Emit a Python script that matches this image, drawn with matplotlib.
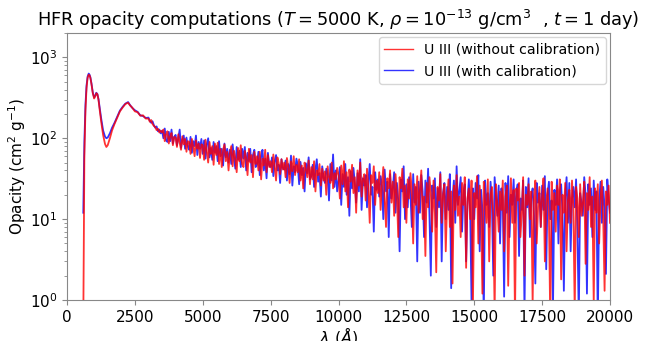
import numpy as np
import matplotlib
matplotlib.use("Agg")
import matplotlib.pyplot as plt

# smooth part of the spectrum
wl_head = [600, 640, 680, 720, 760, 800, 830, 860, 900, 950, 1000, 1040, 1080, 1120, 1160,
           1200, 1260, 1330, 1400, 1450, 1500, 1580, 1660, 1750, 1850, 1950, 2050, 2150,
           2250, 2320, 2400, 2500, 2600, 2700, 2800, 2900]
red_head = [0.5, 60, 220, 420, 560, 610, 600, 560, 470, 360, 310, 330, 360, 350, 300,
            230, 160, 110, 85, 78, 82, 100, 125, 150, 180, 215, 240, 265,
            275, 255, 240, 215, 210, 190, 192, 175]
blue_head = [12, 90, 260, 450, 580, 630, 610, 570, 480, 370, 320, 335, 365, 350, 305,
             245, 175, 125, 105, 100, 102, 115, 135, 155, 185, 220, 245, 268,
             280, 258, 238, 222, 212, 192, 188, 178]

# noisy part, sampled every 50 A from 3000 to 20000
wl_tail = np.arange(3000, 20001, 50)
red_tail = [
    175, 160, 168, 150, 142, 138, 126, 131, 118, 124,
    118, 128, 92, 112, 122, 86, 106, 116, 82, 104,
    102, 78, 112, 88, 72, 106, 84, 98, 68, 92,
    90, 64, 98, 78, 60, 94, 74, 86, 57, 84,
    82, 54, 96, 70, 50, 90, 64, 80, 47, 86,
    62, 88, 48, 74, 44, 72, 84, 52, 68, 40,
    66, 80, 45, 70, 56, 38, 76, 52, 82, 48,
    44, 70, 56, 35, 74, 50, 62, 33, 68, 48,
    60, 40, 68, 31, 56, 46, 72, 38, 62, 44,
    52, 38, 63, 45, 30, 58, 49, 36, 55, 41,
    50, 33, 57, 44, 28, 52, 39, 60, 35, 47,
    38, 55, 30, 46, 24, 50, 41, 33, 53, 27,
    44, 31, 52, 22, 40, 35, 48, 26, 42, 30,
    39, 20, 45, 33, 28, 50, 24, 37, 31, 43,
    35, 18, 46, 27, 52, 22, 38, 14, 41, 29,
    47, 21, 33, 12, 40, 26, 50, 19, 31, 36,
    17, 42, 24, 9, 35, 28, 45, 15, 30, 21,
    38, 13, 27, 44, 18, 8, 32, 24, 40, 16,
    29, 11, 36, 20, 6, 33, 24, 42, 14, 26,
    9, 31, 18, 37, 22, 5, 27, 15, 34, 12,
    24, 40, 10, 19, 3.5, 28, 14, 33, 21, 7,
    30, 12, 2.2, 25, 17, 36, 9, 20, 27, 4,
    16, 31, 8, 22, 1.6, 26, 13, 35, 11, 19,
    6, 28, 15, 33, 2.5, 18, 24, 10, 30, 0.8,
    21, 14, 34, 5, 26, 12, 1.2, 29, 17, 9,
    31, 3, 20, 25, 11, 0.7, 27, 15, 7, 22,
    13, 30, 4, 19, 26, 1.5, 14, 32, 9, 23,
    0.6, 24, 17, 28, 6, 12, 33, 2, 20, 15,
    27, 10, 22, 0.9, 18, 30, 5, 14, 25, 8,
    19, 32, 3, 16, 24, 11, 0.5, 29, 13, 21,
    7, 26, 15, 31, 1.8, 20, 12, 28, 4, 17,
    23, 9, 30, 14, 0.7, 25, 18, 6, 27, 11,
    16, 29, 2.8, 21, 13, 33, 8, 19, 0.9, 24,
    12, 27, 5, 18, 30, 10, 1.3, 22, 15, 26,
    9]
blue_tail = [
    180, 165, 155, 162, 145, 135, 140, 122, 128, 115,
    124, 100, 132, 94, 90, 120, 92, 128, 86, 104,
    110, 82, 100, 128, 76, 96, 108, 74, 102, 80,
    72, 104, 66, 92, 80, 108, 62, 90, 74, 98,
    64, 94, 56, 84, 100, 58, 76, 54, 90, 66,
    80, 52, 92, 60, 74, 46, 86, 58, 74, 50,
    72, 48, 84, 58, 42, 78, 54, 70, 44, 74,
    56, 78, 40, 66, 52, 74, 38, 62, 72, 44,
    48, 68, 35, 60, 72, 40, 56, 32, 66, 46,
    44, 58, 34, 51, 62, 40, 47, 28, 55, 43,
    41, 53, 30, 48, 36, 61, 26, 45, 38, 56,
    46, 27, 51, 35, 43, 22, 49, 37, 58, 31,
    34, 47, 25, 41, 55, 29, 37, 19, 45, 33,
    28, 42, 36, 17, 48, 30, 63, 25, 40, 22,
    30, 44, 15, 36, 25, 48, 20, 33, 11, 39,
    24, 43, 28, 16, 37, 22, 55, 13, 32, 26,
    35, 14, 29, 48, 20, 25, 7, 38, 23, 31,
    19, 34, 26, 10, 41, 22, 29, 6, 36, 18,
    24, 38, 12, 28, 17, 4, 31, 22, 45, 10,
    27, 14, 33, 20, 8, 36, 16, 25, 3, 29,
    12, 35, 22, 6, 30, 16, 42, 11, 2, 26,
    18, 32, 8, 24, 14, 38, 3, 21, 28, 10,
    25, 13, 36, 1.4, 19, 30, 9, 45, 15, 22,
    33, 7, 20, 27, 3, 16, 31, 12, 0.9, 24,
    10, 28, 18, 35, 4, 23, 13, 0.6, 30, 15,
    21, 8, 29, 16, 2, 33, 19, 11, 26, 5,
    24, 17, 1.1, 28, 12, 34, 6, 20, 15, 31,
    9, 22, 27, 3.5, 18, 13, 30, 0.7, 25, 14,
    32, 6, 19, 24, 11, 1.6, 28, 16, 21, 8,
    26, 13, 34, 2.4, 20, 29, 10, 17, 0.8, 23,
    15, 31, 5, 22, 27, 12, 1.3, 19, 33, 9,
    28, 4, 18, 25, 14, 31, 7, 0.6, 21, 16,
    11, 33, 20, 1.2, 27, 15, 24, 6, 30, 13,
    22, 0.5, 17, 29, 9, 25, 14, 2.1, 31, 18,
    12]

wavelength = np.concatenate([wl_head, wl_tail])
kappa_red = np.concatenate([red_head, red_tail])
kappa_blue = np.concatenate([blue_head, blue_tail])

fig = plt.figure(figsize=(6.46, 3.41), dpi=100)
ax = fig.add_axes([0.1037, 0.1202, 0.8406, 0.7830])

l_blue, = ax.plot(wavelength, kappa_blue, color='blue', lw=1.3, alpha=0.8, zorder=2,
                  label='U III (with calibration)')
l_red, = ax.plot(wavelength, kappa_red, color='red', lw=1.3, alpha=0.8, zorder=3,
                 label='U III (without calibration)')

ax.set_yscale('log')
ax.set_xlim(0, 20000)
ax.set_ylim(1, 2000)
ax.set_xticks([0, 2500, 5000, 7500, 10000, 12500, 15000, 17500, 20000])

ax.set_title(r'HFR opacity computations ($T=5000$ K, $\rho=10^{-13}$ g/cm$^3$  , $t=1$ day)',
             fontsize=12.8, pad=5)
ax.set_xlabel(r'$\lambda$ ($\AA$)', fontsize=11.5, labelpad=0)
ax.set_ylabel(r'Opacity (cm$^2$ g$^{-1}$)', fontsize=11, labelpad=1)
ax.tick_params(labelsize=11, color='#888888')
ax.tick_params(which='minor', color='#888888')
for s in ax.spines.values():
    s.set_color('#888888')

leg = ax.legend(handles=[l_red, l_blue], loc='upper right', fontsize=10.2, borderaxespad=0.3)
for h in leg.get_lines():
    h.set_linewidth(1.0)

fig.savefig('out.png', dpi=100)
